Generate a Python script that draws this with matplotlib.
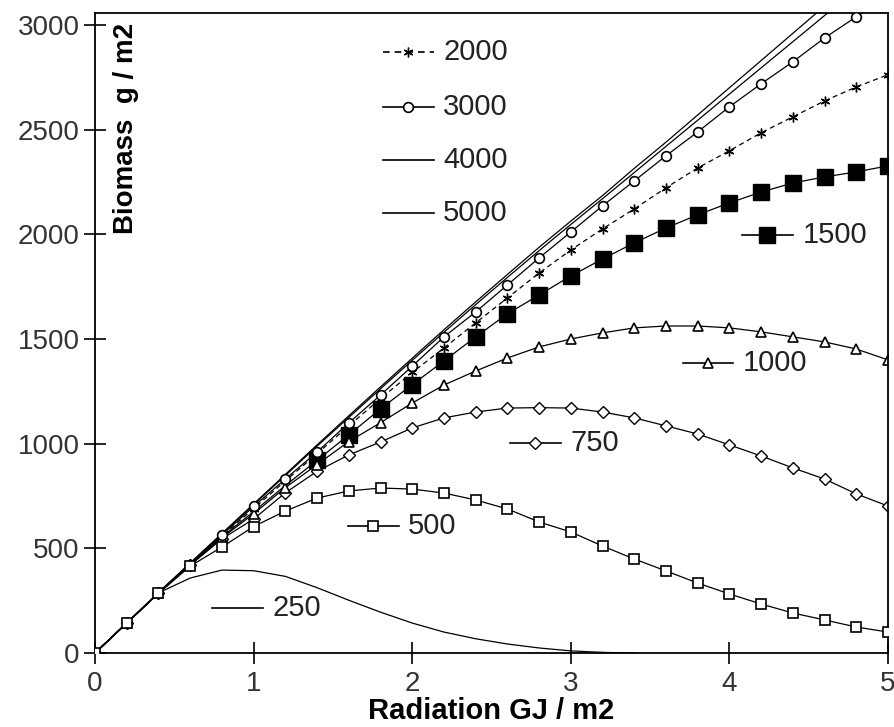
import matplotlib
matplotlib.use("Agg")
import matplotlib.pyplot as plt

plt.rcParams['font.family'] = ['Liberation Sans', 'DejaVu Sans']

# radiation steps (GJ / m2)
x_full = [0.0, 0.2, 0.4, 0.6, 0.8, 1.0, 1.2, 1.4, 1.6, 1.8, 2.0, 2.2, 2.4,
          2.6, 2.8, 3.0, 3.2, 3.4, 3.6, 3.8, 4.0, 4.2, 4.4, 4.6, 4.8, 5.0]
x_250 = [0.0, 0.2, 0.4, 0.6, 0.8, 1.0, 1.2, 1.4, 1.6, 1.8, 2.0, 2.2, 2.4,
         2.6, 2.8, 3.0, 3.2, 3.4]

# biomass (g / m2) per series
b250 = [0, 143, 287, 358, 396, 393, 366, 312, 252, 195, 143, 100, 68,
        43, 24, 10, 3, 0]
b500 = [0, 143, 285, 415, 506, 604, 678, 740, 774, 788, 783, 764, 731,
        688, 626, 578, 511, 449, 392, 334, 282, 234, 191, 158, 124, 100]
b750 = [0, 143, 285, 420, 545, 640, 765, 868, 946, 1008, 1075, 1123, 1151,
        1170, 1172, 1170, 1151, 1123, 1085, 1046, 994, 941, 884, 831, 760, 702]
b1000 = [0, 143, 286, 420, 550, 665, 790, 900, 1010, 1100, 1194, 1280, 1347,
         1409, 1462, 1500, 1529, 1553, 1562, 1562, 1553, 1534, 1510, 1486, 1452, 1400]
b1500 = [0, 143, 286, 422, 555, 675, 800, 920, 1042, 1166, 1282, 1395, 1510,
         1620, 1710, 1801, 1882, 1959, 2030, 2093, 2150, 2202, 2245, 2274, 2298, 2327]
b2000 = [0, 143, 287, 423, 558, 690, 822, 952, 1085, 1215, 1340, 1457, 1577,
         1696, 1815, 1925, 2026, 2121, 2222, 2317, 2399, 2485, 2561, 2637, 2704, 2762]
b3000 = [0, 143, 287, 420, 563, 700, 831, 960, 1099, 1232, 1370, 1510, 1629,
         1758, 1887, 2011, 2136, 2255, 2375, 2489, 2609, 2719, 2824, 2938, 3039, 3140]
b4000 = [0, 143, 288, 428, 568, 708, 848, 988, 1125, 1262, 1398, 1532, 1664,
         1794, 1922, 2047, 2170, 2295, 2420, 2545, 2670, 2795, 2920, 3045, 3165, 3285]
b5000 = [0, 143, 289, 430, 571, 712, 853, 994, 1133, 1271, 1408, 1544, 1677,
         1808, 1938, 2063, 2185, 2315, 2440, 2570, 2700, 2830, 2960, 3090, 3215, 3340]

y_ticks = [0, 500, 1000, 1500, 2000, 2500, 3000]
x_ticks = [0, 1, 2, 3, 4, 5]

STAR = (6, 2, 0)
DASH = (0, (4, 3))


def main():
    fig = plt.figure(figsize=(8.94, 7.27), dpi=100)
    ax = fig.add_axes([0.1063, 0.1018, 0.8870, 0.8803])

    lw = 0.9
    # filled squares go underneath, open markers sit on top of them;
    # where all curves still overlap the big squares are left out
    ax.plot(x_full, b1500, color="black", lw=lw, marker="s", ms=12,
            mfc="black", mec="black", markevery=slice(7, None), zorder=2)
    ax.plot(x_full, b4000, color="black", lw=lw, zorder=2.1)
    ax.plot(x_full, b5000, color="black", lw=lw, zorder=2.1)
    ax.plot(x_250, b250, color="black", lw=lw, zorder=2.2)
    ax.plot(x_full, b2000, color="black", lw=lw, ls=DASH,
            marker=STAR, ms=7, mew=1.0, zorder=2.3)
    ax.plot(x_full, b750, color="black", lw=lw, marker="D", ms=6,
            mfc="white", mec="black", mew=1.0, zorder=2.4)
    ax.plot(x_full, b1000, color="black", lw=lw, marker="^", ms=7.5,
            mfc="white", mec="black", mew=1.2, zorder=2.5)
    ax.plot(x_full, b3000, color="black", lw=lw, marker="o", ms=7,
            mfc="white", mec="black", mew=1.2, zorder=2.6)
    ax.plot(x_full, b500, color="black", lw=lw, marker="s", ms=7,
            mfc="white", mec="black", mew=1.2, zorder=2.7)

    # inline key items (axes fraction positions)
    keys = [
        ("2000", 0.363, 0.939, dict(ls=DASH, marker=STAR, ms=7, mew=1.0)),
        ("3000", 0.363, 0.853, dict(marker="o", ms=7, mfc="white", mew=1.2)),
        ("4000", 0.363, 0.770, dict()),
        ("5000", 0.363, 0.6875, dict()),
        ("1500", 0.816, 0.653, dict(marker="s", ms=12, mfc="black")),
        ("1000", 0.741, 0.453, dict(marker="^", ms=7.5, mfc="white", mew=1.2)),
        ("750", 0.523, 0.328, dict(marker="D", ms=6, mfc="white", mew=1.0)),
        ("500", 0.319, 0.198, dict(marker="s", ms=7, mfc="white", mew=1.2)),
        ("250", 0.148, 0.070, dict()),
    ]
    for label, kx, ky, style in keys:
        line_style = {k: v for k, v in style.items() if k == "ls"}
        mark_style = {k: v for k, v in style.items() if k != "ls"}
        ax.plot([kx, kx + 0.064], [ky, ky], transform=ax.transAxes,
                color="black", lw=1.2, clip_on=False, **line_style)
        if "marker" in mark_style:
            ax.plot([kx + 0.032], [ky], transform=ax.transAxes,
                    color="black", mec="black", lw=0, clip_on=False,
                    **mark_style)
        ax.text(kx + 0.076, ky, label, transform=ax.transAxes, fontsize=21,
                va="center", ha="left", color="#222222")

    ax.set_xlim(0, 5)
    ax.set_ylim(0, 3057)
    ax.set_xticks(x_ticks)
    ax.set_yticks(y_ticks)
    ax.tick_params(direction="inout", length=16, width=1.2, labelsize=20,
                   labelcolor="#333333")
    ax.tick_params(axis="x", pad=5)
    ax.tick_params(axis="y", pad=3)
    for s in ax.spines.values():
        s.set_linewidth(1.3)

    ax.set_xlabel("Radiation GJ / m2", fontsize=21, fontweight="bold",
                  labelpad=0)
    ax.text(0.039, 0.985, "Biomass  g / m2", transform=ax.transAxes,
            rotation=90, fontsize=20, fontweight="bold", va="top",
            ha="center")

    fig.savefig("out.png", dpi=100)


if __name__ == "__main__":
    main()
